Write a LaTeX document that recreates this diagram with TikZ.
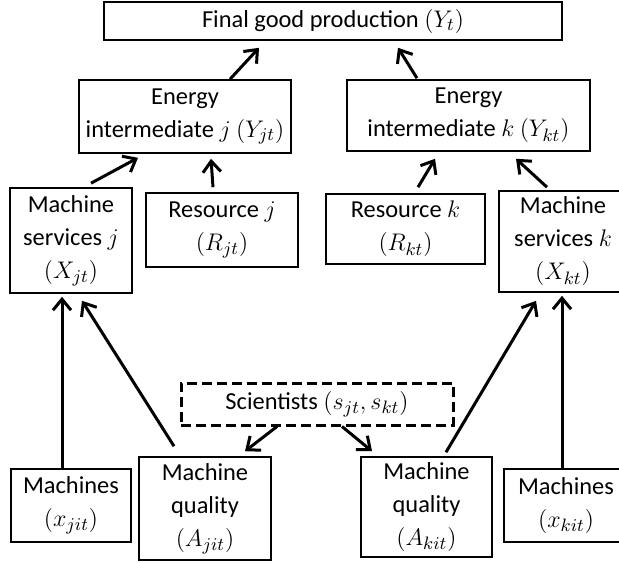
\documentclass[tikz,border=0pt]{standalone}
\usepackage{fontspec}
\setmainfont{Carlito}
\usetikzlibrary{calc}
\usetikzlibrary{positioning}
\usetikzlibrary{arrows.meta}
\tikzset{
	>={Straight Barb[length=5.5pt,width=9pt]},
	kasten/.style={
		rectangle,
		draw=black, line width=0.8pt,
		align=center,
		inner sep=0pt,
		font=\fontsize{12.2}{16.5}\selectfont},
	schwarm/.style={kasten, line width=1.5pt, dash pattern=on 5pt off 2.5pt},
	line/.style={draw, line width=1.5pt, ->},
}
\begin{document}
\begin{tikzpicture}
	[x=0.5pt, y=-0.5pt]
	\clip (0,0) rectangle (619,562);
	% top level
	\node[kasten, minimum width=229pt, minimum height=19pt] (final) at (333,21) {Final good production $(Y_t)$};
	\node[kasten, minimum width=106pt, minimum height=36.5pt] (enj) at (185,116.5) {Energy\\intermediate $j$ $(Y_{jt})$};
	\node[kasten, minimum width=121.5pt, minimum height=35.5pt] (enk) at (468.5,115.5) {Energy\\intermediate $k$ $(Y_{kt})$};
	% inputs
	\node[kasten, minimum width=61pt, minimum height=52.5pt] (msj) at (71,240.5) {Machine\\services $j$\\$(X_{jt})$};
	\node[kasten, minimum width=76pt, minimum height=37pt] (resj) at (222,230) {Resource $j$\\$\left(R_{jt}\right)$};
	\node[kasten, minimum width=79.5pt, minimum height=35pt] (resk) at (405.5,229) {Resource $k$\\$(R_{kt})$};
	\node[kasten, minimum width=64pt, minimum height=50.5pt] (msk) at (563,241.5) {Machine\\services $k$\\$(X_{kt})$};
	% bottom
	\node[schwarm, minimum width=136pt, minimum height=21pt] (sci) at (317,404) {Scientists $(s_{jt},s_{kt})$};
	\node[kasten, minimum width=60pt, minimum height=36.5pt] (mj) at (71,505.5) {Machines\\$(x_{jit})$};
	\node[kasten, minimum width=66pt, minimum height=51.5pt] (mqj) at (205,508.5) {Machine\\quality\\$(A_{jit})$};
	\node[kasten, minimum width=65.5pt, minimum height=50pt] (mqk) at (426.5,507) {Machine\\quality\\$(A_{kit})$};
	\node[kasten, minimum width=62pt, minimum height=36.5pt] (mk) at (566,505.5) {Machines\\$(x_{kit})$};

	\path[line] ($(enj.north)+(45,0)$) -- ($(final.south)+(-74,7)$);
	\path[line] ($(enk.north)+(-51.5,-1)$) -- ($(final.south)+(65,7)$);
	\path[line] ($(msj.north)+(20,-4)$) -- ($(enj.south)+(-47,4)$);
	\path[line] ($(resj.north)+(-9,-5)$) -- ($(enj.south)+(26,5)$);
	\path[line] ($(resk.north)+(12.5,-6)$) -- ($(enk.south)+(-33.5,7)$);
	\path[line] ($(msk.north)+(-16,-3)$) -- ($(enk.south)+(47.5,7)$);
	\path[line] ($(mj.north)+(-9,0)$) -- ($(msj.south)+(-9,3)$);
	\path[line] ($(mqj.north)+(-31,-10)$) -- ($(msj.south)+(11,7)$);
	\path[line] ($(sci.south)+(-40,0)$) -- ($(mqj.north)+(40,-5)$);
	\path[line] ($(sci.south)+(25,0)$) -- ($(mqk.north)+(-54.5,-5)$);
	\path[line] ($(mqk.north)+(19.5,-4)$) -- ($(msk.south)+(-27,8)$);
	\path[line] ($(mk.north)+(-4,0)$) -- ($(msk.south)+(-1,3)$);
\end{tikzpicture}
\end{document}
